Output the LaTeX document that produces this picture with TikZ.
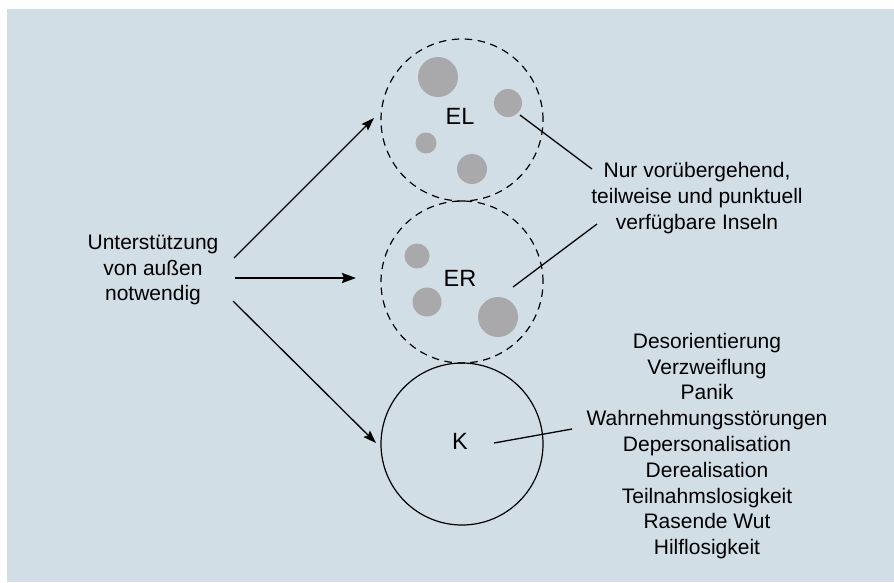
\documentclass[tikz,border=0pt]{standalone}
\usepackage{fontspec}
\setmainfont{Liberation Sans}
\usetikzlibrary{arrows.meta}
\definecolor{bg}{RGB}{209,222,230}
\definecolor{blob}{RGB}{169,169,171}
\tikzset{
  ring/.style={circle, draw=black, line width=1.2pt, minimum size=162pt, inner sep=0pt},
  dashring/.style={ring, dash pattern=on 7.5pt off 5.5pt},
  lbl/.style={font=\fontsize{23.5}{26}\selectfont, inner sep=0pt},
  txt/.style={font=\fontsize{21}{25.8}\selectfont, align=center, inner sep=0pt},
  blobnode/.style={circle, fill=blob, inner sep=0pt},
  arr/.style={line width=1.3pt, -{Stealth[length=13pt,width=9pt,inset=2pt]}},
  thickarr/.style={line width=2.4pt, -{Stealth[length=14pt,width=10pt,inset=2pt]}},
  lead/.style={line width=1.3pt}
}
\begin{document}
\begin{tikzpicture}[x=1pt,y=-1pt]
\useasboundingbox (0,0) rectangle (894,582);
\fill[white] (0,0) rectangle (894,582);
\fill[bg] (7,9) rectangle (894,582);

% circles
\node[dashring] (EL) at (462,120) {};
\node[dashring] (ER) at (462,282) {};
\node[ring] (K) at (462,444) {};

% labels
\node[lbl] (ELt) at (460,116) {EL};
\node[lbl] (ERt) at (460,278) {ER};
\node[lbl] (Kt) at (460,441) {K};

% blobs EL
\node[blobnode, minimum size=40pt] (e1) at (438,77) {};
\node[blobnode, minimum size=28pt] (e2) at (508,103) {};
\node[blobnode, minimum size=21pt] (e3) at (426,143) {};
\node[blobnode, minimum size=30pt] (e4) at (472,169) {};
% blobs ER
\node[blobnode, minimum size=25pt] (r1) at (417,256) {};
\node[blobnode, minimum size=29pt] (r2) at (427,302) {};
\node[blobnode, minimum size=40pt] (r3) at (498,317) {};

% texts
\node[txt] (L) at (153,270) {Unterstützung\\von außen\\notwendig};
\node[txt] (N) at (697,198) {Nur vorübergehend,\\teilweise und punktuell\\verfügbare Inseln};
\node[txt] (S) at (707,446) {Desorientierung\\Verzweiflung\\Panik\\Wahrnehmungsstörungen\\Depersonalisation\\Derealisation\\Teilnahmslosigkeit\\Rasende Wut\\Hilflosigkeit};

% arrow endpoints
\coordinate (a1s) at (234,258);
\coordinate (a1e) at (374,118);
\coordinate (a2s) at (235,278);
\coordinate (a2e) at (356,278);
\coordinate (a3s) at (233,301);
\coordinate (a3e) at (376,443);
\draw[arr] (a1s) -- (a1e);
\draw[thickarr] (a2s) -- (a2e);
\draw[arr] (a3s) -- (a3e);

% leader lines
\coordinate (l1s) at (520,115);
\coordinate (l1e) at (592,169);
\coordinate (l2s) at (513,287);
\coordinate (l2e) at (597,224);
\coordinate (l3s) at (494,443);
\coordinate (l3e) at (572,429);
\draw[lead] (l1s) -- (l1e);
\draw[lead] (l2s) -- (l2e);
\draw[lead] (l3s) -- (l3e);
\end{tikzpicture}
\end{document}
